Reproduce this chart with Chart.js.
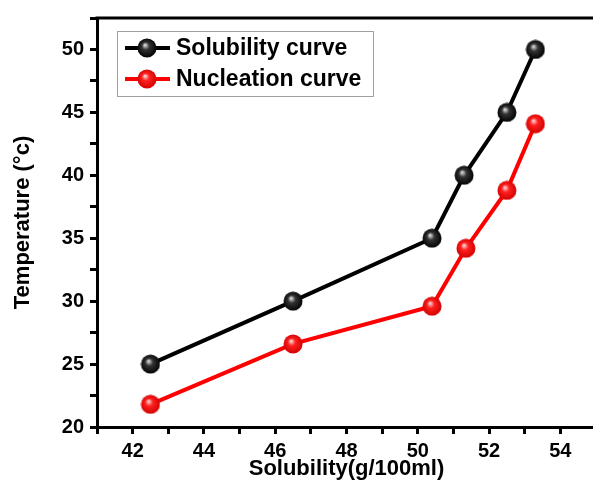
<!DOCTYPE html>
<html>
<head>
<meta charset="utf-8">
<script src="https://cdn.jsdelivr.net/npm/chart.js@4.4.1/dist/chart.umd.min.js"></script>
<style>
  html, body { margin: 0; padding: 0; background: #fff; overflow: hidden; }
  #wrap { width: 593px; height: 480px; overflow: hidden; }
  #box { width: 610px; height: 482px; }
</style>
</head>
<body>
<div id="wrap"><div id="box"><canvas id="chart"></canvas></div></div>
<script>
const seriesNames = ['Solubility curve', 'Nucleation curve'];
const solubilityX = [42.5, 46.5, 50.4, 51.3, 52.5, 53.3];
const solubilityT = [25, 30, 35, 40, 45, 50];
const nucleationX = [42.5, 46.5, 50.4, 51.35, 52.5, 53.3];
const nucleationT = [21.8, 26.6, 29.6, 34.2, 38.8, 44.1];
const xLabels = [42, 44, 46, 48, 50, 52, 54];
const yLabels = [20, 25, 30, 35, 40, 45, 50];

// little shaded ball used as the marker
function ball(light, mid, dark) {
  const c = document.createElement('canvas');
  c.width = 20; c.height = 20;
  const g = c.getContext('2d');
  const grad = g.createRadialGradient(8, 7, 0.5, 10, 10, 10);
  grad.addColorStop(0, light);
  grad.addColorStop(0.35, mid);
  grad.addColorStop(1, dark);
  g.fillStyle = grad;
  g.beginPath();
  g.arc(10, 10, 9.5, 0, Math.PI * 2);
  g.fill();
  return c;
}
const blackBall = ball('#d8d8d8', '#333', '#000');
const redBall = ball('#ffd0d0', '#ff2020', '#d00000');

const frame = {
  id: 'frame',
  afterDraw(chart) {
    const { ctx, chartArea: a } = chart;
    ctx.save();
    ctx.strokeStyle = '#000';
    ctx.lineWidth = 3;
    ctx.beginPath();
    ctx.moveTo(a.left - 1.5, a.top);
    ctx.lineTo(a.right, a.top);
    ctx.lineTo(a.right, a.bottom);
    ctx.stroke();

    // legend
    ctx.lineWidth = 1;
    ctx.strokeStyle = '#a0a0a0';
    ctx.strokeRect(117.5, 31.5, 256, 65);
    const rows = [
      { y: 48, color: '#000', img: blackBall },
      { y: 79, color: '#ff0000', img: redBall }
    ];
    ctx.font = 'bold 23px "Liberation Sans", Arial, sans-serif';
    ctx.textBaseline = 'middle';
    rows.forEach((r, i) => {
      ctx.strokeStyle = r.color;
      ctx.lineWidth = 4;
      ctx.beginPath();
      ctx.moveTo(125, r.y);
      ctx.lineTo(170, r.y);
      ctx.stroke();
      ctx.drawImage(r.img, 137, r.y - 10, 20, 20);
      ctx.fillStyle = '#000';
      ctx.fillText(seriesNames[i], 176, r.y + 1);
    });
    ctx.restore();
  }
};

const tickFont = { family: '"Liberation Sans", Arial, sans-serif', size: 20, weight: '700' };
const titleFont = { family: '"Liberation Sans", Arial, sans-serif', size: 22, weight: '700' };

new Chart(document.getElementById('chart'), {
  type: 'scatter',
  data: {
    datasets: [
      {
        label: seriesNames[0],
        data: solubilityX.map((x, i) => ({ x, y: solubilityT[i] })),
        showLine: true,
        borderColor: '#000',
        borderWidth: 4,
        pointStyle: blackBall,
        pointRadius: 10
      },
      {
        label: seriesNames[1],
        data: nucleationX.map((x, i) => ({ x, y: nucleationT[i] })),
        showLine: true,
        borderColor: '#ff0000',
        borderWidth: 4,
        pointStyle: redBall,
        pointRadius: 10
      }
    ]
  },
  options: {
    responsive: true,
    maintainAspectRatio: false,
    animation: false,
    layout: { padding: { top: 15, right: 7, left: 0, bottom: 0 } },
    plugins: { legend: { display: false }, tooltip: { enabled: false } },
    scales: {
      x: {
        type: 'linear',
        min: 41,
        max: 55,
        afterFit: s => { s.height = 55; },
        border: { display: true, width: 3, color: '#000' },
        grid: { drawOnChartArea: false, drawTicks: true, tickLength: 7, tickWidth: 3, tickColor: '#000' },
        ticks: {
          stepSize: 1,
          padding: 5,
          color: '#000',
          font: tickFont,
          maxRotation: 0,
          autoSkip: false,
          callback: v => xLabels.includes(v) ? String(v) : ''
        },
        title: {
          display: true,
          text: 'Solubility(g/100ml)',
          color: '#000',
          font: titleFont,
          padding: { top: 0, bottom: 0 }
        }
      },
      y: {
        type: 'linear',
        min: 20,
        max: 52.5,
        afterFit: s => { s.width = 97; },
        border: { display: true, width: 3, color: '#000' },
        grid: { drawOnChartArea: false, drawTicks: true, tickLength: 7, tickWidth: 3, tickColor: '#000' },
        ticks: {
          stepSize: 2.5,
          padding: 6,
          color: '#000',
          font: tickFont,
          autoSkip: false,
          callback: v => yLabels.includes(v) ? String(v) : ''
        },
        title: {
          display: true,
          text: 'Temperature (°c)',
          color: '#000',
          font: titleFont,
          padding: { top: 10, bottom: 0 }
        }
      }
    }
  },
  plugins: [frame]
});
</script>
</body>
</html>
